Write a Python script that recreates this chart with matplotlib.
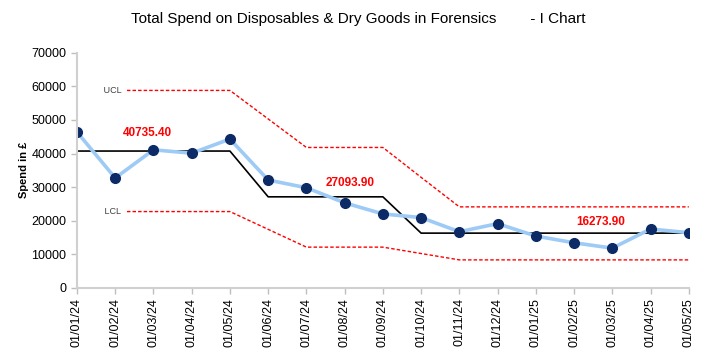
import numpy as np
import matplotlib
matplotlib.use("Agg")
import matplotlib.pyplot as plt

plt.rcParams['font.family'] = ['Liberation Sans', 'DejaVu Sans']

months = ['01/01/24', '01/02/24', '01/03/24', '01/04/24', '01/05/24', '01/06/24',
          '01/07/24', '01/08/24', '01/09/24', '01/10/24', '01/11/24', '01/12/24',
          '01/01/25', '01/02/25', '01/03/25', '01/04/25', '01/05/25']
spend = [46400, 32700, 41100, 40100, 44300, 32100, 29800, 25300, 22000,
         20900, 16700, 19100, 15400, 13400, 11800, 17500, 16400]
mean = [40735.40] * 5 + [27093.90] * 4 + [16273.90] * 8
ucl = [58800] * 5 + [50300] + [41800] * 3 + [32900] + [24100] * 7
lcl = [22700] * 5 + [17400] + [12100] * 3 + [10200] + [8300] * 7

# where the mean value labels sit (index position, height)
mean_labels = [(1.85, 46000, '40735.40'), (7.15, 31100, '27093.90'),
               (13.7, 19500, '16273.90')]

x = np.arange(len(months))

fig = plt.figure(figsize=(7.16, 3.57), dpi=100)
ax = fig.add_axes([0.1075, 0.194, 0.8545, 0.658])

ax.plot(x, ucl, color='red', ls=(0, (2.5, 1.5)), lw=1, zorder=2)
ax.plot(x, lcl, color='red', ls=(0, (2.5, 1.5)), lw=1, zorder=2)
ax.plot(x, mean, color='black', lw=1.2, zorder=3)
ax.plot(x, spend, color='#9dcbf5', lw=2.6, zorder=4)
ax.plot(x, spend, 'o', color='#0b2a66', ms=7, zorder=5)

# limit labels, white box hides the start of the dashed lines
for val, name in [(ucl[0], 'UCL'), (lcl[0], 'LCL')]:
    ax.text(1.22, val, '             ' + name + ' ', ha='right', va='center',
            fontsize=6.5, color='#404040', zorder=6, clip_on=True,
            bbox=dict(boxstyle='square,pad=0.15', fc='white', ec='none'))

for xi, yi, s in mean_labels:
    ax.text(xi, yi, s, ha='center', va='center', color='red',
            fontsize=8.5, fontweight='bold', zorder=6)

ax.set_xlim(0, 16)
ax.set_ylim(0, 70000)
ax.set_yticks(np.arange(0, 70001, 10000))
ax.set_xticks(x)
ax.set_xticklabels(months, rotation=90, fontsize=9)
ax.tick_params(axis='y', labelsize=9)
ax.tick_params(colors='#bfbfbf', labelcolor='black', length=4, width=1)
for side in ['top', 'right']:
    ax.spines[side].set_visible(False)
for side in ['left', 'bottom']:
    ax.spines[side].set_color('#d0d0d0')
    ax.spines[side].set_linewidth(1.5)
    ax.spines[side].set_zorder(7)

ax.set_ylabel('Spend in £', fontsize=8, fontweight='bold', labelpad=2)
fig.suptitle('Total Spend on Disposables & Dry Goods in Forensics        - I Chart',
             x=0.5, y=0.965, fontsize=11)

fig.savefig('out.png', dpi=100)
